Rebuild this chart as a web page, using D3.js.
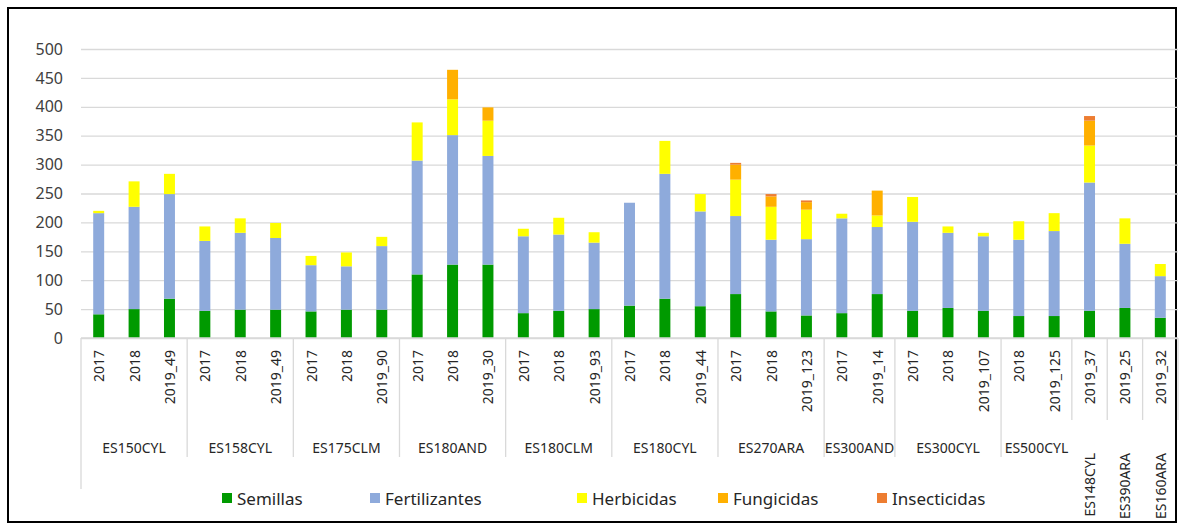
<!DOCTYPE html>
<html><head><meta charset="utf-8">
<script src="https://cdn.jsdelivr.net/npm/d3@7"></script>
<style>body{margin:0;background:#fff}svg{display:block}</style>
</head><body><svg id="c" width="1184" height="526"></svg>
<script>
const yearLabels = ["2017","2018","2019_49","2017","2018","2019_49","2017","2018","2019_90","2017","2018","2019_30","2017","2018","2019_93","2017","2018","2019_44","2017","2018","2019_123","2017","2019_14","2017","2018","2019_107","2018","2019_125","2019_37","2019_25","2019_32"];
const groupLabels = ["ES150CYL","ES150CYL","ES150CYL","ES158CYL","ES158CYL","ES158CYL","ES175CLM","ES175CLM","ES175CLM","ES180AND","ES180AND","ES180AND","ES180CLM","ES180CLM","ES180CLM","ES180CYL","ES180CYL","ES180CYL","ES270ARA","ES270ARA","ES270ARA","ES300AND","ES300AND","ES300CYL","ES300CYL","ES300CYL","ES500CYL","ES500CYL","ES148CYL","ES390ARA","ES160ARA"];
const semillas      = [41,50,68,47,49,49,46,49,49,110,127,127,43,47,50,56,68,55,76,46,39,43,76,47,52,47,38,38,47,52,35];
const fertilizantes = [175,177,181,121,133,124,80,75,110,197,224,188,133,132,115,178,216,164,135,124,132,164,116,154,130,129,132,147,222,111,72];
const herbicidas    = [4,44,35,25,25,26,16,24,16,66,62,61,13,29,18,0,57,30,63,57,51,8,20,43,11,6,32,31,64,44,21];
const fungicidas    = [0,0,0,0,0,0,0,0,0,0,51,23,0,0,0,0,0,0,26,18,13,0,43,0,0,0,0,0,43,0,0];
const insecticidas  = [0,0,0,0,0,0,0,0,0,0,0,0,0,0,0,0,0,0,3,4,3,0,0,0,0,0,0,0,8,0,0];
const seriesNames = ["Semillas","Fertilizantes","Herbicidas","Fungicidas","Insecticidas"];
const seriesColors = ["#009a00","#8eaadb","#ffff00","#ffb000","#ed7d31"];
const yTicks = [0,50,100,150,200,250,300,350,400,450,500];

const svg = d3.select("#c");
const font = "'Noto Sans', 'Open Sans', sans-serif";
svg.append("rect").attr("x",8).attr("y",8).attr("width",1168).attr("height",514)
  .attr("fill","#fff").attr("stroke","#000").attr("stroke-width",2);

const n = yearLabels.length;
const x = d3.scaleBand().domain(d3.range(n)).range([81,1178]).paddingInner(0.69).paddingOuter(0.345);
const y = d3.scaleLinear().domain([0,500]).range([338,49]);
const step = x.step();
const x0 = x.range()[0];

// gridlines + y labels
const yAxis = d3.axisLeft(y).tickValues(yTicks).tickSize(-(1178-81)).tickPadding(18);
const ga = svg.append("g").attr("transform","translate(81,0)").call(yAxis);
ga.select(".domain").remove();
ga.selectAll(".tick line").attr("stroke","#d9d9d9").attr("stroke-width",1.3);
ga.selectAll(".tick text").attr("font-family",font).attr("font-size",16).attr("fill","#404040");

// stacked bars
const table = d3.range(n).map(i => ({i, Semillas:semillas[i], Fertilizantes:fertilizantes[i], Herbicidas:herbicidas[i], Fungicidas:fungicidas[i], Insecticidas:insecticidas[i]}));
const stacked = d3.stack().keys(seriesNames)(table);
svg.append("g").selectAll("g").data(stacked).join("g").attr("fill",(d,k)=>seriesColors[k])
  .selectAll("rect").data(d=>d).join("rect")
  .attr("x",d=>x(d.data.i)).attr("width",x.bandwidth())
  .attr("y",d=>y(d[1])).attr("height",d=>Math.max(0,y(d[0])-y(d[1])));

// category axis
const ax = svg.append("g");
ax.append("line").attr("x1",81).attr("x2",1178).attr("y1",338).attr("y2",338).attr("stroke","#d9d9d9").attr("stroke-width",1.3);
ax.append("line").attr("x1",81).attr("x2",81).attr("y1",338).attr("y2",489).attr("stroke","#d9d9d9").attr("stroke-width",1.3);
ax.selectAll("text.yl").data(yearLabels).join("text").attr("class","yl")
  .attr("transform",(d,i)=>`translate(${x(i)+x.bandwidth()/2},350) rotate(-90)`)
  .attr("text-anchor","end").attr("dominant-baseline","central")
  .attr("font-family",font).attr("font-size",14).attr("fill","#262626").text(d=>d);

// groups
const groups = [];
groupLabels.forEach((g,i)=>{ if(!groups.length || groups[groups.length-1].name!==g) groups.push({name:g,start:i,end:i}); else groups[groups.length-1].end=i; });
groups.forEach((g,gi)=>{
  const bx = x0 + (g.end+1)*step;
  const single = g.end===g.start;
  const nextSingle = gi+1<groups.length ? groups[gi+1].end===groups[gi+1].start : true;
  ax.append("line").attr("x1",bx).attr("x2",bx).attr("y1",338).attr("y2",(single||nextSingle)?420:457)
    .attr("stroke","#d9d9d9").attr("stroke-width",1.3);
  const cx = x0 + (g.start+g.end+1)/2*step;
  if(single){
    ax.append("text").attr("transform",`translate(${cx},453) rotate(-90)`)
      .attr("text-anchor","end").attr("dominant-baseline","central")
      .attr("font-family",font).attr("font-size",14).attr("fill","#262626").text(g.name);
  } else {
    ax.append("text").attr("x",cx).attr("y",447).attr("text-anchor","middle").attr("dominant-baseline","central")
      .attr("font-family",font).attr("font-size",14).attr("fill","#262626").text(g.name);
  }
});

// legend
const legX = [222,370,577,718,877];
const lg = svg.append("g").selectAll("g").data(seriesNames).join("g")
  .attr("transform",(d,k)=>`translate(${legX[k]},498)`);
lg.append("rect").attr("x",0).attr("y",-5).attr("width",10).attr("height",10).attr("fill",(d,k)=>seriesColors[k]);
lg.append("text").attr("x",15).attr("y",0).attr("dominant-baseline","central")
  .attr("font-family",font).attr("font-size",17).attr("fill","#262626").text(d=>d);
</script></body></html>
